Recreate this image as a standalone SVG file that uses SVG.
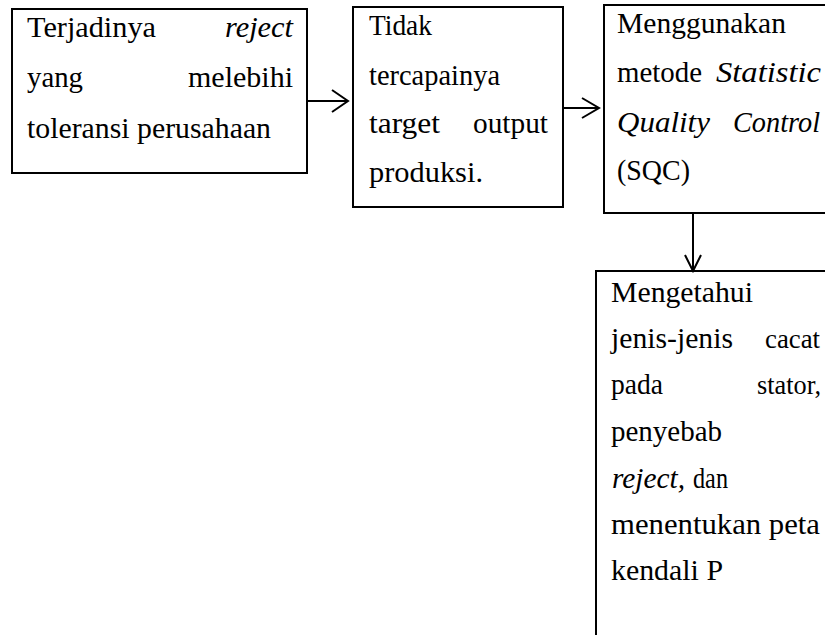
<svg xmlns="http://www.w3.org/2000/svg" width="825" height="635" viewBox="0 0 825 635">
<style>
.box{fill:#fff;stroke:#000;stroke-width:2}
.t{font-family:"Liberation Serif","Times New Roman",serif;font-size:29.5px;fill:#000}
.i{font-style:italic}
.s{font-size:26.5px}
.c{stroke:#000;stroke-width:2;fill:none}
</style>
<rect width="825" height="635" fill="#fff"/>
<g id="node1">
<rect class="box" x="12" y="9" width="295" height="164"/>
<text class="t" x="27" y="37" textLength="129" lengthAdjust="spacingAndGlyphs">Terjadinya</text>
<text class="t i" x="225" y="37" textLength="68" lengthAdjust="spacingAndGlyphs">reject</text>
<text class="t" x="27" y="87" textLength="56" lengthAdjust="spacingAndGlyphs">yang</text>
<text class="t" x="188" y="87" textLength="105" lengthAdjust="spacingAndGlyphs">melebihi</text>
<text class="t" x="27" y="138" textLength="244" lengthAdjust="spacingAndGlyphs">toleransi perusahaan</text>
</g>
<g id="node2">
<rect class="box" x="353" y="7" width="210" height="200"/>
<text class="t" x="369" y="35" textLength="63" lengthAdjust="spacingAndGlyphs">Tidak</text>
<text class="t" x="369" y="85" textLength="131" lengthAdjust="spacingAndGlyphs">tercapainya</text>
<text class="t" x="369" y="133" textLength="71" lengthAdjust="spacingAndGlyphs">target</text>
<text class="t" x="473" y="133" textLength="75" lengthAdjust="spacingAndGlyphs">output</text>
<text class="t" x="369" y="182" textLength="114" lengthAdjust="spacingAndGlyphs">produksi.</text>
</g>
<g id="node3">
<rect class="box" x="604" y="5" width="230" height="208"/>
<text class="t" x="617" y="33" textLength="169" lengthAdjust="spacingAndGlyphs">Menggunakan</text>
<text class="t" x="617" y="82" textLength="85" lengthAdjust="spacingAndGlyphs">metode</text>
<text class="t i" x="716" y="82" textLength="105" lengthAdjust="spacingAndGlyphs">Statistic</text>
<text class="t i" x="617" y="132" textLength="93" lengthAdjust="spacingAndGlyphs">Quality</text>
<text class="t i" x="733" y="132" textLength="87" lengthAdjust="spacingAndGlyphs">Control</text>
<text class="t" x="617" y="180" textLength="73" lengthAdjust="spacingAndGlyphs">(SQC)</text>
</g>
<g id="node4">
<rect class="box" x="596" y="271" width="240" height="380"/>
<text class="t" x="611" y="302" textLength="142" lengthAdjust="spacingAndGlyphs">Mengetahui</text>
<text class="t" x="611" y="348" textLength="122" lengthAdjust="spacingAndGlyphs">jenis-jenis</text>
<text class="t s" x="765" y="348" textLength="55" lengthAdjust="spacingAndGlyphs">cacat</text>
<text class="t" x="611" y="394" textLength="52" lengthAdjust="spacingAndGlyphs">pada</text>
<text class="t s" x="757" y="394" textLength="64" lengthAdjust="spacingAndGlyphs">stator,</text>
<text class="t" x="611" y="441" textLength="111" lengthAdjust="spacingAndGlyphs">penyebab</text>
<text class="t i" x="612" y="488" textLength="73" lengthAdjust="spacingAndGlyphs">reject,</text>
<text class="t" x="693" y="488" textLength="35" lengthAdjust="spacingAndGlyphs">dan</text>
<text class="t" x="611" y="534" textLength="209" lengthAdjust="spacingAndGlyphs">menentukan peta</text>
<text class="t" x="611" y="580" textLength="112" lengthAdjust="spacingAndGlyphs">kendali P</text>
</g>
<g id="connectors">
<path class="c" d="M307 101H347M332 90L348 101L332 112"/>
<path class="c" d="M563 108H598M582 98L599 108L582 118"/>
<path class="c" d="M693 213V270M685 255L693 271L701 255"/>
</g>
</svg>
